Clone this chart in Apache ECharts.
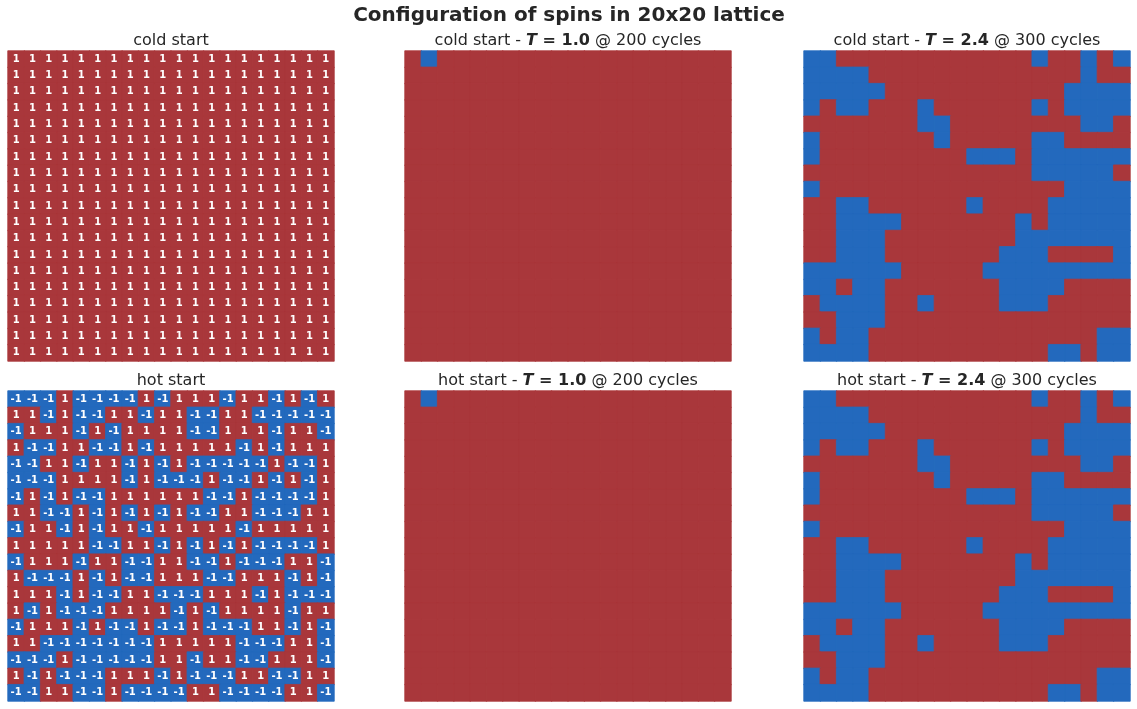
<!DOCTYPE html>
<html>
<head>
<meta charset="utf-8">
<script src="https://cdn.jsdelivr.net/npm/echarts@6/dist/echarts.min.js"></script>
<style>
  html, body { margin: 0; padding: 0; background: #fff; }
  #chart { width: 1137px; height: 709px; }
</style>
</head>
<body>
<div id="chart"></div>
<script>
// spin lattices, one string per row: '+' is spin 1, '-' is spin -1
var coldStart = [
    '++++++++++++++++++++', '++++++++++++++++++++', '++++++++++++++++++++',
    '++++++++++++++++++++', '++++++++++++++++++++', '++++++++++++++++++++',
    '++++++++++++++++++++', '++++++++++++++++++++', '++++++++++++++++++++',
    '++++++++++++++++++++', '++++++++++++++++++++', '++++++++++++++++++++',
    '++++++++++++++++++++', '++++++++++++++++++++', '++++++++++++++++++++',
    '++++++++++++++++++++', '++++++++++++++++++++', '++++++++++++++++++++',
    '++++++++++++++++++++'
];

var hotStart = [
    '---+----+-+++-++-+-+',
    '++-+--++-++--++-----',
    '-+++-+-++++--+++-++-',
    '+--++--+-+++++-+-+++',
    '--++-++-+-+-----+--+',
    '---++++-+---+--+-+-+',
    '-+-+--++++++--+----+',
    '++--+-+-+-+--++---++',
    '-++-+-++-+++++-+++++',
    '+++++--++-+-+-+----+',
    '-+++-++--++--+---++-',
    '+---+-+--+++--+++-+-',
    '+++-+--++---+++-+---',
    '+-+---++++-+-++++-++',
    '-+++-+--+--+---++-+-',
    '++-------+++++---++-',
    '---+-----++-++--+++-',
    '+-+---+++-+---++--++',
    '--++--+----++----++-'
];

var lowT = [
    '+-++++++++++++++++++', '++++++++++++++++++++', '++++++++++++++++++++',
    '++++++++++++++++++++', '++++++++++++++++++++', '++++++++++++++++++++',
    '++++++++++++++++++++', '++++++++++++++++++++', '++++++++++++++++++++',
    '++++++++++++++++++++', '++++++++++++++++++++', '++++++++++++++++++++',
    '++++++++++++++++++++', '++++++++++++++++++++', '++++++++++++++++++++',
    '++++++++++++++++++++', '++++++++++++++++++++', '++++++++++++++++++++',
    '++++++++++++++++++++'
];

var critT = [
    '--++++++++++++-++-+-',
    '----+++++++++++++-++',
    '-----+++++++++++----',
    '-+--+++-++++++-+----',
    '+++++++--++++++++--+',
    '-+++++++-+++++--++++',
    '-+++++++++---+------',
    '++++++++++++++-----+',
    '-+++++++++++++++----',
    '++--++++++-++++-----',
    '++----+++++++-+-----',
    '++---++++++++-------',
    '++---+++++++---++++-',
    '------+++++---------',
    '--+--+++++++----++++',
    '+----++-++++---+++++',
    '++---+++++++++++++++',
    '-+--++++++++++++++--',
    '----+++++++++++--+--'
];

var panels = [
    { name: 'cold start', lattice: coldStart, labels: true },
    { name: 'cold start - ', T: '1.0', cycles: 200, lattice: lowT, labels: false },
    { name: 'cold start - ', T: '2.4', cycles: 300, lattice: critT, labels: false },
    { name: 'hot start', lattice: hotStart, labels: true },
    { name: 'hot start - ', T: '1.0', cycles: 200, lattice: lowT, labels: false },
    { name: 'hot start - ', T: '2.4', cycles: 300, lattice: critT, labels: false }
];

var cols = [];
for (var c = 0; c < 20; c++) cols.push(c);
var rows = [];
for (var r = 0; r < coldStart.length; r++) rows.push(r);

var RED = '#a9373b';
var BLUE = '#2369bd';
var FONT = 'DejaVu Sans';

var lefts = [8, 405, 804];
var tops = [51, 391];

function toCells(lattice) {
    var cells = [];
    for (var i = 0; i < lattice.length; i++) {
        for (var j = 0; j < lattice[i].length; j++) {
            var v = lattice[i][j] == '+' ? 1 : -1;
            // border in the cell colour hides the seams between cells
            cells.push({
                value: [j, i, v],
                itemStyle: { borderColor: v > 0 ? RED : BLUE, borderWidth: 0.8 }
            });
        }
    }
    return cells;
}

var titles = [{
    text: 'Configuration of spins in 20x20 lattice',
    left: 569,
    top: 6,
    padding: 0,
    textAlign: 'center',
    textStyle: { fontFamily: FONT, fontSize: 20, fontWeight: 'bold', color: '#262626' }
}];
var grids = [], xAxes = [], yAxes = [], series = [];

for (var k = 0; k < panels.length; k++) {
    var p = panels[k];
    var gx = lefts[k % 3], gy = tops[Math.floor(k / 3)];
    var text = p.name;
    if (p.T) {
        text = p.name + '{t|T}{b| = ' + p.T + '} @ ' + p.cycles + ' cycles';
    }
    titles.push({
        text: text,
        left: gx + 163,
        top: gy - 18,
        padding: 0,
        textAlign: 'center',
        textStyle: {
            fontFamily: FONT, fontSize: 16, color: '#262626', fontWeight: 'normal',
            rich: {
                t: { fontFamily: FONT, fontSize: 16, color: '#262626', fontWeight: 'bold', fontStyle: 'italic' },
                b: { fontFamily: FONT, fontSize: 16, color: '#262626', fontWeight: 'bold' }
            }
        }
    });
    grids.push({ left: gx, top: gy, width: 326, height: 310 });
    xAxes.push({ type: 'category', data: cols, gridIndex: k, show: false });
    yAxes.push({ type: 'category', data: rows, gridIndex: k, inverse: true, show: false });
    series.push({
        type: 'heatmap',
        xAxisIndex: k,
        yAxisIndex: k,
        data: toCells(p.lattice),
        emphasis: { disabled: true },
        label: {
            show: p.labels,
            color: '#fff',
            fontFamily: FONT,
            fontSize: 10,
            fontWeight: 'bold',
            formatter: function(d) { return String(d.value[2]); }
        }
    });
}

var chart = echarts.init(document.getElementById('chart'));
chart.setOption({
    animation: false,
    backgroundColor: '#fff',
    title: titles,
    grid: grids,
    xAxis: xAxes,
    yAxis: yAxes,
    visualMap: {
        type: 'piecewise',
        show: false,
        dimension: 2,
        pieces: [
            { value: -1, color: BLUE },
            { value: 1, color: RED }
        ]
    },
    series: series
});
</script>
</body>
</html>
